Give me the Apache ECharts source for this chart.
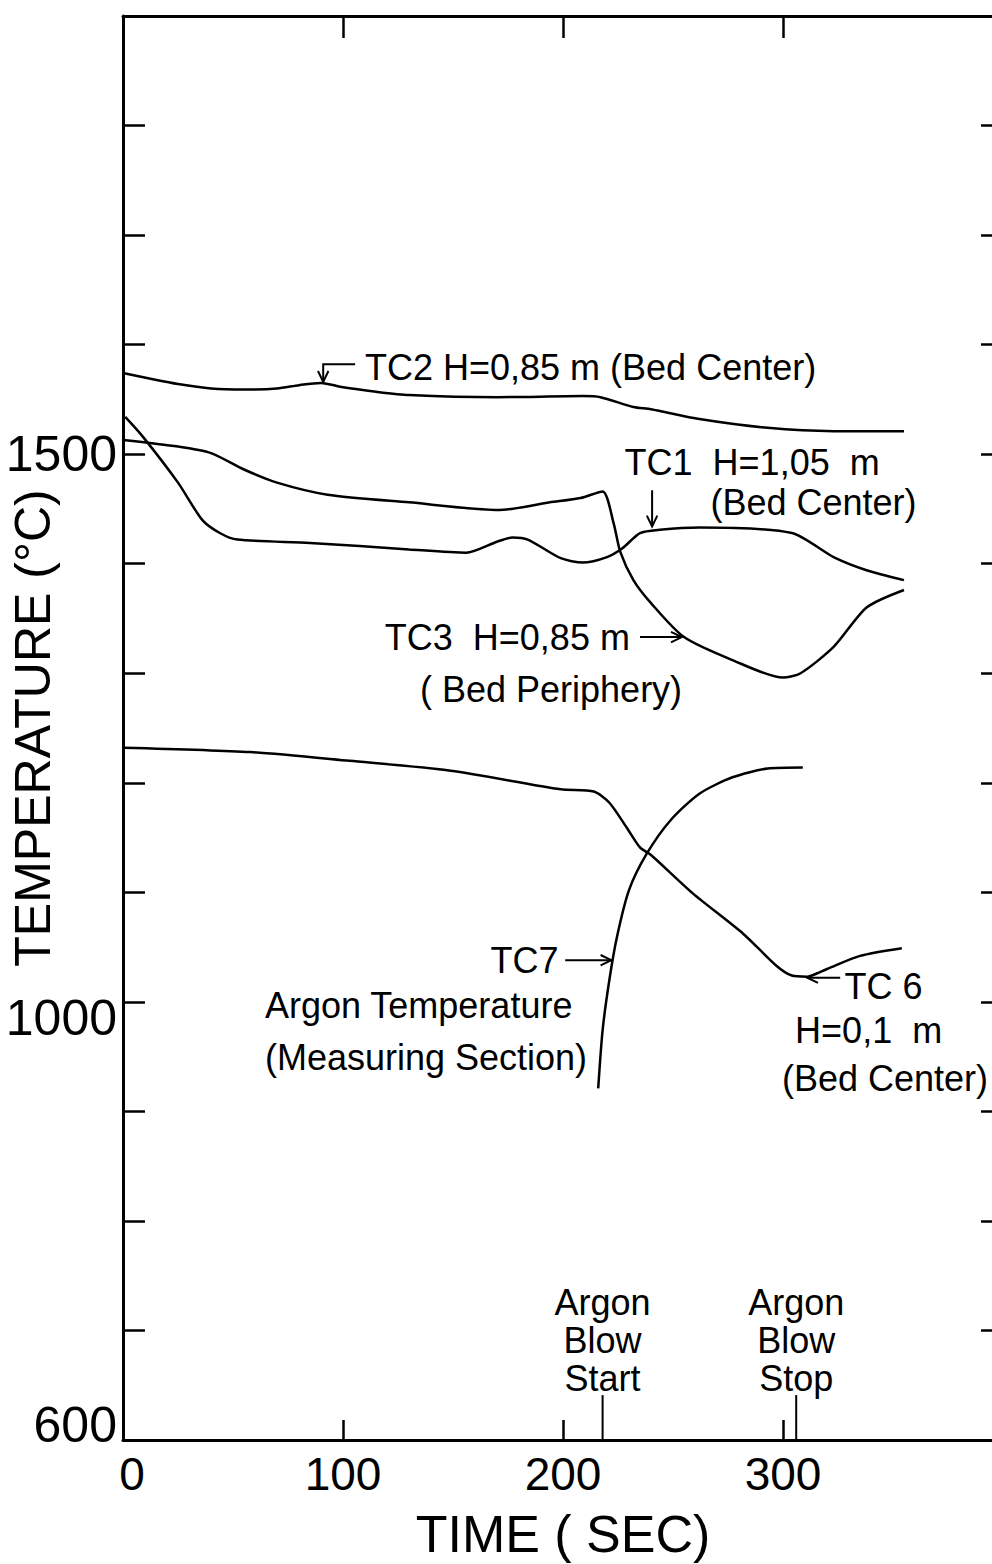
<!DOCTYPE html>
<html>
<head>
<meta charset="utf-8">
<title>Bed temperatures during argon blow</title>
<script src="https://cdn.jsdelivr.net/npm/echarts@6/dist/echarts.min.js"></script>
<style>
  html, body { margin: 0; padding: 0; background: #fff; }
  #chart { width: 992px; height: 1564px; }
</style>
</head>
<body>
<div id="chart"></div>
<script>
// ---- Thermocouple readings: time (s) and temperature (°C) ----
const tc2Time = [0, 12, 25, 40, 55, 70, 80, 90, 100, 115, 130, 170, 209, 217, 232, 240, 262, 293, 323, 355];
const tc2Temp = [1574, 1569, 1564, 1560, 1559, 1560, 1563, 1565, 1561, 1557, 1554, 1552, 1553, 1552, 1543, 1541, 1532, 1524, 1521, 1521];

const tc1Time = [1, 9, 25, 36, 44, 52, 85, 130, 156, 170, 177, 184, 199, 209, 220, 227, 235, 244, 262, 304, 323, 338, 355];
const tc1Temp = [1534, 1516, 1474, 1440, 1428, 1422, 1419, 1413, 1410, 1420, 1424, 1422, 1405, 1401, 1406, 1414, 1428, 1431, 1433, 1428, 1406, 1394, 1385];

const tc3Time = [0, 25, 40, 55, 70, 93, 130, 171, 194, 208, 218, 223, 226, 232, 240, 255, 277, 300, 308, 323, 338, 355];
const tc3Temp = [1513, 1507, 1501, 1486, 1474, 1463, 1456, 1449, 1456, 1460, 1466, 1437, 1411, 1385, 1364, 1333, 1312, 1296, 1300, 1324, 1360, 1376];

const tc6Time = [0, 58, 103, 149, 199, 214, 221, 229, 235, 240, 259, 282, 297, 304, 311, 320, 335, 354];
const tc6Temp = [1232, 1228, 1220, 1211, 1194, 1192, 1182, 1159, 1141, 1134, 1099, 1062, 1033, 1024, 1023, 1030, 1042, 1049];

const tc7Time = [216, 218, 221, 224.5, 230, 238, 249, 262, 277, 293, 309];
const tc7Temp = [921, 974, 1019, 1059, 1102, 1135, 1166, 1190, 1205, 1213, 1214];

// Argon blow start / stop (s)
const blowEvents = [218, 306];
const blowLabels = ['Argon\nBlow\nStart', 'Argon\nBlow\nStop'];

// Axis tick labels that are printed
const xTickLabels = [0, 100, 200, 300];
const yTickLabels = [600, 1000, 1500];

const FONT = '"Liberation Sans", Arial, sans-serif';
const INK = '#000';

const chart = echarts.init(document.getElementById('chart'), null, { renderer: 'svg' });

const pair = (ts, vs) => ts.map((t, i) => [t, vs[i]]);
const curve = (name, ts, vs) => ({
  name,
  type: 'line',
  data: pair(ts, vs),
  smooth: 0.25,
  symbol: 'none',
  silent: true,
  lineStyle: { color: INK, width: 2.5 },
  z: 3
});

const frameAxis = {
  axisLine: { show: true, onZero: false, lineStyle: { color: INK, width: 3 } },
  splitLine: { show: false }
};

// hand-lettered tick labels sit a little off their ticks
const yLabelRich = {
  up: { fontSize: 50, fontFamily: FONT, color: INK, padding: [0, 0, 30, 0] },
  down: { fontSize: 50, fontFamily: FONT, color: INK, padding: [32, 0, 0, 0] },
  mid: { fontSize: 50, fontFamily: FONT, color: INK }
};
const yLabelStyle = { 600: 'up', 1000: 'down', 1500: 'mid' };
const xLabelRich = {
  right: { fontSize: 46, fontFamily: FONT, color: INK, padding: [0, 0, 0, 18] },
  mid: { fontSize: 46, fontFamily: FONT, color: INK }
};

chart.setOption({
  animation: false,
  backgroundColor: '#fff',
  grid: { left: 123, top: 16, width: 880, height: 1424, containLabel: false, outerBoundsMode: 'none' },
  xAxis: [
    Object.assign({
      type: 'value', min: 0, max: 400, interval: 100, position: 'bottom',
      axisTick: { show: true, inside: true, length: 20, lineStyle: { color: INK, width: 2.5 } },
      axisLabel: {
        formatter: v => (xTickLabels.includes(v) ? '{' + (v === 0 ? 'right' : 'mid') + '|' + v + '}' : ''),
        rich: xLabelRich, fontSize: 46, color: INK, fontFamily: FONT, margin: 11,
        showMinLabel: true, showMaxLabel: false
      },
      name: 'TIME ( SEC)', nameLocation: 'middle', nameGap: 68, nameMoveOverlap: false,
      nameTextStyle: { fontSize: 52, color: INK, fontFamily: FONT }
    }, frameAxis),
    Object.assign({
      type: 'value', min: 0, max: 400, interval: 100, position: 'top',
      axisTick: { show: true, inside: true, length: 22, lineStyle: { color: INK, width: 2.5 } },
      axisLabel: { show: false }
    }, frameAxis)
  ],
  yAxis: [
    Object.assign({
      type: 'value', min: 600, max: 1900, interval: 100, position: 'left',
      axisTick: { show: true, inside: true, length: 22, lineStyle: { color: INK, width: 2.5 } },
      axisLabel: {
        formatter: v => (yTickLabels.includes(v) ? '{' + yLabelStyle[v] + '|' + v + '}' : ''),
        rich: yLabelRich, fontSize: 50, color: INK, fontFamily: FONT, margin: 6,
        showMinLabel: true, showMaxLabel: false
      },
      name: 'TEMPERATURE (°C)', nameLocation: 'middle', nameRotate: 90, nameGap: 65, nameMoveOverlap: false,
      nameTextStyle: { fontSize: 50, color: INK, fontFamily: FONT }
    }, frameAxis),
    Object.assign({
      type: 'value', min: 600, max: 1900, interval: 100, position: 'right',
      axisTick: { show: true, inside: true, length: 22, lineStyle: { color: INK, width: 2.5 } },
      axisLabel: { show: false }
    }, frameAxis)
  ],
  series: [
    curve('TC2', tc2Time, tc2Temp),
    curve('TC1', tc1Time, tc1Temp),
    curve('TC3', tc3Time, tc3Temp),
    curve('TC6', tc6Time, tc6Temp),
    curve('TC7', tc7Time, tc7Temp)
  ]
});

// ---- Callouts, placed in data coordinates (time, temperature) ----
const notes = [
  { text: 'TC2 H=0,85 m (Bed Center)', at: [110, 1579] },
  { text: 'TC1', at: [228, 1492] },
  { text: 'H=1,05  m', at: [268, 1492] },
  { text: '(Bed Center)', at: [267, 1456] },
  { text: 'TC3  H=0,85 m', at: [119, 1333] },
  { text: '( Bed Periphery)', at: [135, 1285] },
  { text: 'TC7', at: [167, 1038] },
  { text: 'Argon Temperature', at: [64.5, 997] },
  { text: '(Measuring Section)', at: [64.5, 949] },
  { text: 'TC 6', at: [328, 1014] },
  { text: 'H=0,1  m', at: [305.5, 974] },
  { text: '(Bed Center)', at: [299.5, 930] }
];

// pointer paths; the last point carries the arrow head
const pointers = [
  [[105.5, 1582], [91, 1582], [91, 1566]],   // TC2
  [[240.5, 1467], [240.5, 1434]],            // TC1
  [[235, 1333], [254, 1333]],                // TC3
  [[201, 1038], [222, 1038]],                // TC7
  [[326, 1022], [311, 1022]]                 // TC6
];

const toPx = p => chart.convertToPixel({ xAxisIndex: 0, yAxisIndex: 0 }, p);
const elements = [];

notes.forEach(n => {
  const [x, y] = toPx(n.at);
  elements.push({
    type: 'text', x, y, silent: true,
    style: { text: n.text, fontSize: 36, fontFamily: FONT, fill: INK, align: 'left', verticalAlign: 'middle' }
  });
});

pointers.forEach(path => {
  const pts = path.map(toPx);
  elements.push({
    type: 'polyline', silent: true,
    shape: { points: pts },
    style: { stroke: INK, lineWidth: 2, fill: null }
  });
  const [x1, y1] = pts[pts.length - 2];
  const [x2, y2] = pts[pts.length - 1];
  const ang = Math.atan2(y2 - y1, x2 - x1);
  const len = 12, spread = 0.45;
  const head = [
    [x2 - len * Math.cos(ang - spread), y2 - len * Math.sin(ang - spread)],
    [x2, y2],
    [x2 - len * Math.cos(ang + spread), y2 - len * Math.sin(ang + spread)]
  ];
  elements.push({
    type: 'polyline', silent: true,
    shape: { points: head },
    style: { stroke: INK, lineWidth: 2, fill: null }
  });
});

// argon blow start / stop markers above the time axis
blowEvents.forEach((t, i) => {
  const top = toPx([t, 641]);
  const base = toPx([t, 600]);
  elements.push({
    type: 'line', silent: true,
    shape: { x1: top[0], y1: top[1], x2: base[0], y2: base[1] },
    style: { stroke: INK, lineWidth: 2 }
  });
  const [lx, ly] = toPx([t, 691]);
  elements.push({
    type: 'text', x: lx, y: ly, silent: true,
    style: {
      text: blowLabels[i], fontSize: 36, lineHeight: 38, fontFamily: FONT,
      fill: INK, align: 'center', verticalAlign: 'middle'
    }
  });
});

chart.setOption({ graphic: { elements } });
</script>
</body>
</html>
